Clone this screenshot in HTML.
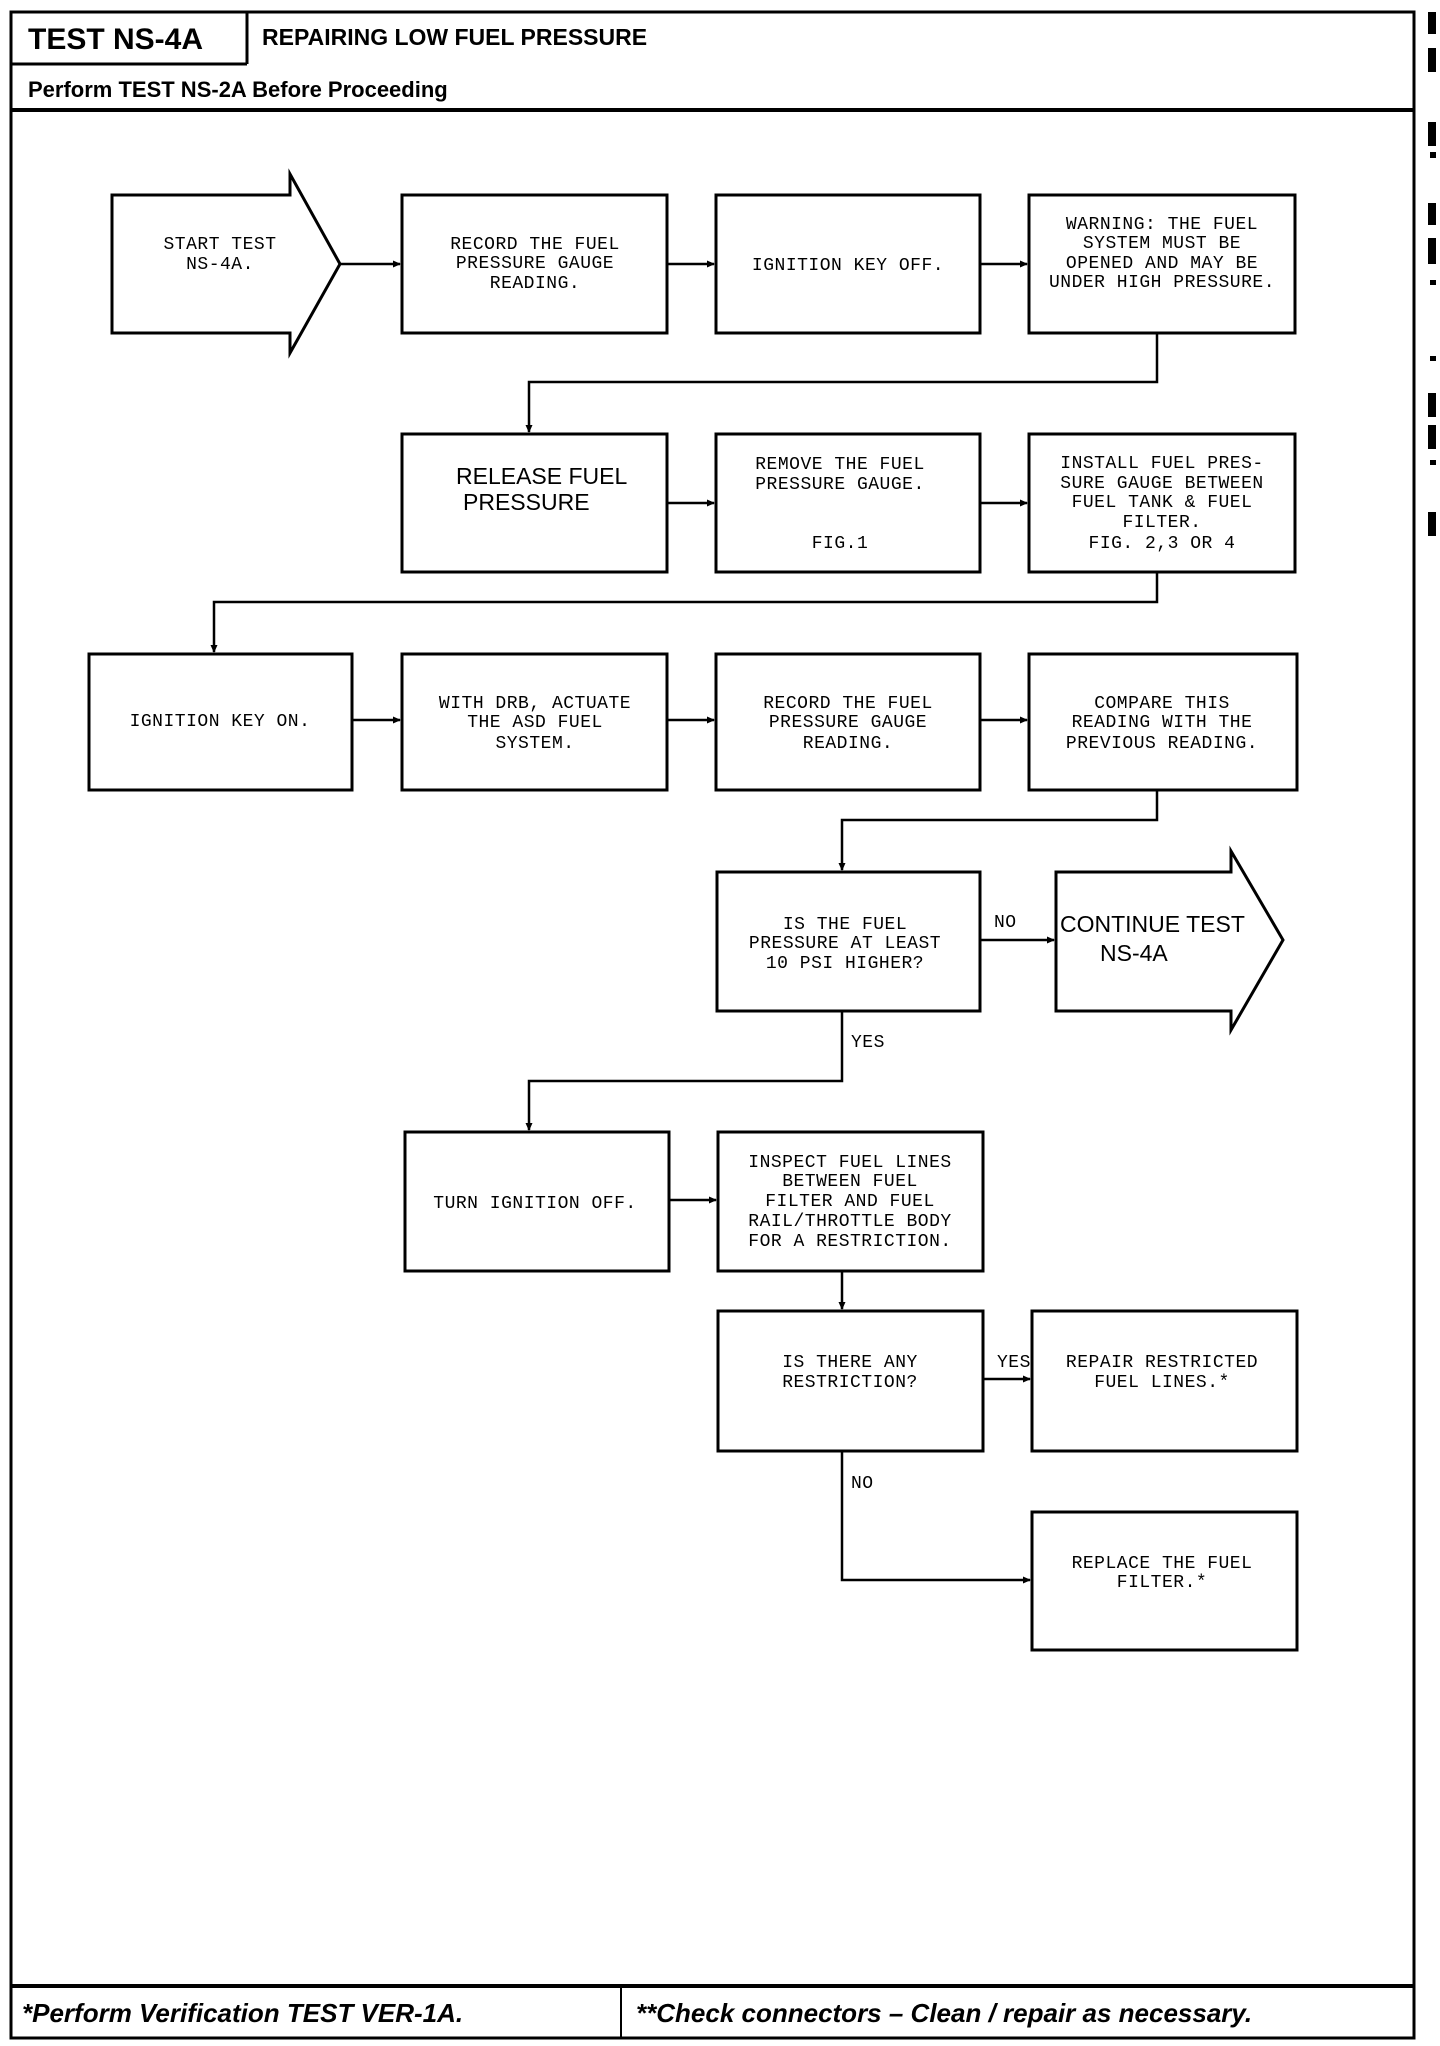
<!DOCTYPE html>
<html><head><meta charset="utf-8"><style>
html,body{margin:0;padding:0;background:#fff;}
svg{display:block;}
.m{font-family:"Liberation Mono",monospace;font-size:18px;letter-spacing:0.5px;fill:#000;}
.s{font-family:"Liberation Sans",sans-serif;fill:#000;}
</style></head><body>
<svg width="1440" height="2046" viewBox="0 0 1440 2046" xmlns="http://www.w3.org/2000/svg">
<defs><marker id="a" markerWidth="8" markerHeight="8" refX="7" refY="4" orient="auto" markerUnits="userSpaceOnUse"><path d="M0,0.5 L8,4 L0,7.5 z" fill="#000"/></marker></defs>
<g fill="none" stroke="#000" stroke-width="3">
<rect x="11" y="12" width="1403" height="2026"/>
<line x1="247" y1="12" x2="247" y2="64"/>
<line x1="11" y1="64" x2="247" y2="64"/>
<line x1="11" y1="110" x2="1414" y2="110" stroke-width="4"/>
<line x1="11" y1="1986" x2="1414" y2="1986" stroke-width="4"/>
<line x1="621" y1="1986" x2="621" y2="2038" stroke-width="2"/>
<!-- row1 -->
<path d="M112,195 H290 V174 L340,264 L290,353 V333 H112 Z"/>
<rect x="402" y="195" width="265" height="138"/>
<rect x="716" y="195" width="264" height="138"/>
<rect x="1029" y="195" width="266" height="138"/>
<!-- row2 -->
<rect x="402" y="434" width="265" height="138"/>
<rect x="716" y="434" width="264" height="138"/>
<rect x="1029" y="434" width="266" height="138"/>
<!-- row3 -->
<rect x="89" y="654" width="263" height="136"/>
<rect x="402" y="654" width="265" height="136"/>
<rect x="716" y="654" width="264" height="136"/>
<rect x="1029" y="654" width="268" height="136"/>
<!-- row4 -->
<rect x="717" y="872" width="263" height="139"/>
<path d="M1056,872 H1231 V851 L1283,940 L1231,1030 V1011 H1056 Z"/>
<!-- row5 -->
<rect x="405" y="1132" width="264" height="139"/>
<rect x="718" y="1132" width="265" height="139"/>
<!-- row6 -->
<rect x="718" y="1311" width="265" height="140"/>
<rect x="1032" y="1311" width="265" height="140"/>
<rect x="1032" y="1512" width="265" height="138"/>
</g>
<g fill="none" stroke="#000" stroke-width="2.5">
<line x1="340" y1="264" x2="400" y2="264" marker-end="url(#a)"/>
<line x1="667" y1="264" x2="714" y2="264" marker-end="url(#a)"/>
<line x1="980" y1="264" x2="1027" y2="264" marker-end="url(#a)"/>
<polyline points="1157,333 1157,382 529,382 529,432" marker-end="url(#a)"/>
<line x1="667" y1="503" x2="714" y2="503" marker-end="url(#a)"/>
<line x1="980" y1="503" x2="1027" y2="503" marker-end="url(#a)"/>
<polyline points="1157,572 1157,602 214,602 214,652" marker-end="url(#a)"/>
<line x1="352" y1="720" x2="400" y2="720" marker-end="url(#a)"/>
<line x1="667" y1="720" x2="714" y2="720" marker-end="url(#a)"/>
<line x1="980" y1="720" x2="1027" y2="720" marker-end="url(#a)"/>
<polyline points="1157,790 1157,820 842,820 842,870" marker-end="url(#a)"/>
<line x1="980" y1="940" x2="1054" y2="940" marker-end="url(#a)"/>
<polyline points="842,1011 842,1081 529,1081 529,1130" marker-end="url(#a)"/>
<line x1="669" y1="1200" x2="716" y2="1200" marker-end="url(#a)"/>
<line x1="842" y1="1271" x2="842" y2="1309" marker-end="url(#a)"/>
<line x1="983" y1="1379" x2="1030" y2="1379" marker-end="url(#a)"/>
<polyline points="842,1451 842,1580 1030,1580" marker-end="url(#a)"/>
</g>
<g class="s" font-weight="bold">
<text x="28" y="49" font-size="30">TEST NS-4A</text>
<text x="262" y="45" font-size="23">REPAIRING LOW FUEL PRESSURE</text>
<text x="28" y="97" font-size="22">Perform TEST NS-2A Before Proceeding</text>
<text x="22" y="2022" font-size="26" font-style="italic">*Perform Verification TEST VER-1A.</text>
<text x="636" y="2022" font-size="26" font-style="italic">**Check connectors – Clean / repair as necessary.</text>
</g>
<g class="s" font-size="23">
<text x="456" y="484">RELEASE FUEL</text>
<text x="463" y="510">PRESSURE</text>
<text x="1060" y="932">CONTINUE TEST</text>
<text x="1100" y="961">NS-4A</text>
</g>
<g class="m" text-anchor="middle">
<text x="220" y="249">START TEST</text><text x="220" y="269">NS-4A.</text>
<text x="535" y="249">RECORD THE FUEL</text><text x="535" y="268">PRESSURE GAUGE</text><text x="535" y="288">READING.</text>
<text x="848" y="270">IGNITION KEY OFF.</text>
<text x="1162" y="229">WARNING: THE FUEL</text><text x="1162" y="248">SYSTEM MUST BE</text><text x="1162" y="268">OPENED AND MAY BE</text><text x="1162" y="287">UNDER HIGH PRESSURE.</text>
<text x="840" y="469">REMOVE THE FUEL</text><text x="840" y="489">PRESSURE GAUGE.</text><text x="840" y="548">FIG.1</text>
<text x="1162" y="468">INSTALL FUEL PRES-</text><text x="1162" y="488">SURE GAUGE BETWEEN</text><text x="1162" y="507">FUEL TANK &amp; FUEL</text><text x="1162" y="527">FILTER.</text><text x="1162" y="548">FIG. 2,3 OR 4</text>
<text x="220" y="726">IGNITION KEY ON.</text>
<text x="535" y="708">WITH DRB, ACTUATE</text><text x="535" y="727">THE ASD FUEL</text><text x="535" y="748">SYSTEM.</text>
<text x="848" y="708">RECORD THE FUEL</text><text x="848" y="727">PRESSURE GAUGE</text><text x="848" y="748">READING.</text>
<text x="1162" y="708">COMPARE THIS</text><text x="1162" y="727">READING WITH THE</text><text x="1162" y="748">PREVIOUS READING.</text>
<text x="845" y="929">IS THE FUEL</text><text x="845" y="948">PRESSURE AT LEAST</text><text x="845" y="968">10 PSI HIGHER?</text>
<text x="535" y="1208">TURN IGNITION OFF.</text>
<text x="850" y="1167">INSPECT FUEL LINES</text><text x="850" y="1186">BETWEEN FUEL</text><text x="850" y="1206">FILTER AND FUEL</text><text x="850" y="1226">RAIL/THROTTLE BODY</text><text x="850" y="1246">FOR A RESTRICTION.</text>
<text x="850" y="1367">IS THERE ANY</text><text x="850" y="1387">RESTRICTION?</text>
<text x="1162" y="1367">REPAIR RESTRICTED</text><text x="1162" y="1387">FUEL LINES.*</text>
<text x="1162" y="1568">REPLACE THE FUEL</text><text x="1162" y="1587">FILTER.*</text>
</g>
<g class="m" font-size="17">
<text x="994" y="927">NO</text>
<text x="851" y="1047">YES</text>
<text x="997" y="1367">YES</text>
<text x="851" y="1488">NO</text>
</g>
<g fill="#000">
<rect x="1428" y="12" width="8" height="22"/><rect x="1428" y="48" width="8" height="24"/>
<rect x="1428" y="122" width="8" height="24"/><rect x="1430" y="152" width="6" height="6"/>
<rect x="1428" y="203" width="8" height="22"/><rect x="1428" y="238" width="8" height="26"/>
<rect x="1430" y="280" width="6" height="5"/><rect x="1430" y="356" width="6" height="5"/>
<rect x="1428" y="393" width="8" height="24"/><rect x="1428" y="425" width="8" height="24"/>
<rect x="1430" y="460" width="6" height="5"/><rect x="1428" y="512" width="8" height="24"/>
</g>
</svg>
</body></html>
